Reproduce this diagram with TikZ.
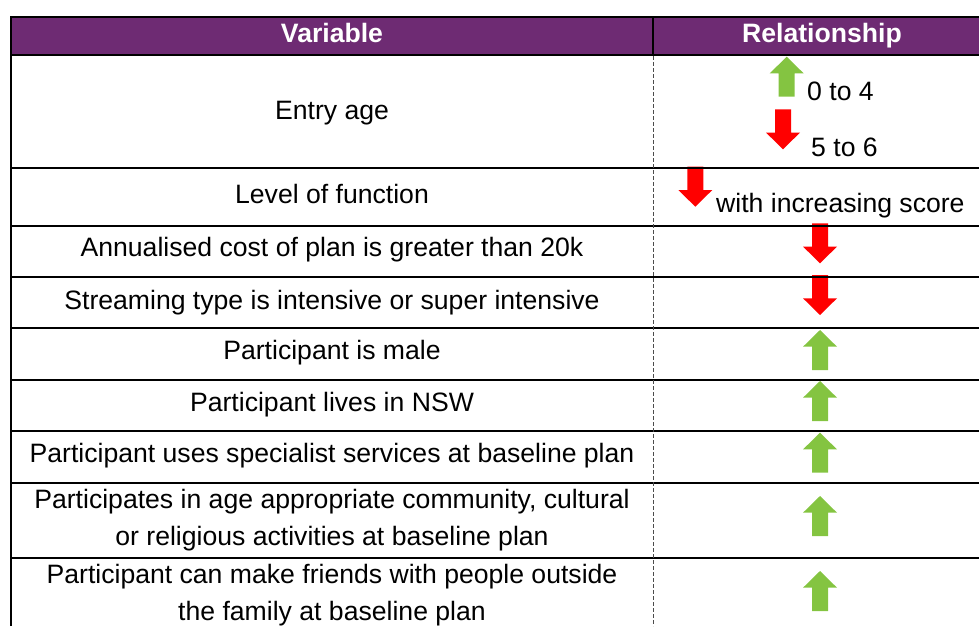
\documentclass[tikz,border=0pt]{standalone}
\usepackage{fontspec}
\setmainfont{Liberation Sans}
\definecolor{headpurple}{RGB}{110,43,115}
\definecolor{upgreen}{RGB}{132,196,65}
\definecolor{downred}{RGB}{255,0,0}

\begin{document}
\begin{tikzpicture}[x=1pt, y=-1pt,
    cell/.style={align=center, inner sep=0pt, font=\fontsize{26.6}{36.7}\selectfont},
    line/.style={cell, anchor=base},
    head/.style={line, text=white, font=\fontsize{26.6}{36.7}\selectfont\bfseries},
    rule/.style={line width=2pt},
    colrule/.style={line width=1pt, gray!60!black, dash pattern=on 4pt off 2pt},
    greenup/.pic={\fill[upgreen] (-8,20) -- (-8,-3.3) -- (-17,-3.3) -- (0,-20) -- (17,-3.3) -- (8,-3.3) -- (8,20) -- cycle;},
    reddown/.pic={\fill[downred] (-8,-20) -- (-8,3.3) -- (-17,3.3) -- (0,20) -- (17,3.3) -- (8,3.3) -- (8,-20) -- cycle;}]
  \useasboundingbox (0,0) rectangle (979,626);
  \fill[headpurple] (11,17) rectangle (979,55);

  % header
  \node[head] (var) at (332,43) {Variable};
  \node[head] (rel) at (822,43) {Relationship};

  % variables
  \node[line] (age) at (332,119.3) {Entry age};
  \node[line] (func) at (332,203.3) {Level of function};
  \node[line] (cost) at (332,256.7) {Annualised cost of plan is greater than 20k};
  \node[line] (stream) at (332,309) {Streaming type is intensive or super intensive};
  \node[line] (male) at (332,359.3) {Participant is male};
  \node[line] (nsw) at (332,411.5) {Participant lives in NSW};
  \node[line] (spec) at (332,462.5) {Participant uses specialist services at baseline plan};
  \node[cell] (comm) at (332,520.4) {Participates in age appropriate community, cultural\\or religious activities at baseline plan};
  \node[cell] (friends) at (332,595.3) {Participant can make friends with people outside\\the family at baseline plan};

  % relationships
  \pic at (786.7,76.7) {greenup};
  \node[line, anchor=base west] (age04) at (807,100) {0 to 4};
  \pic at (783,129.3) {reddown};
  \node[line, anchor=base west] (age56) at (811,156) {5 to 6};
  \pic at (695.3,186.7) {reddown};
  \node[line, anchor=base west] (score) at (716,212) {with increasing score};
  \pic at (820,243.3) {reddown};
  \pic at (820,295) {reddown};
  \foreach \y in {350,401,452.7,516,591}
    \pic at (820,\y) {greenup};

  % rules
  \draw[rule] (11,626) -- (11,17) -- (979,17);
  \draw[rule] (653,17) -- (653,55);
  \foreach \y in {55,168,226,277,328,380,431,483,558}
    \draw[rule] (11,\y) -- (979,\y);
  \draw[colrule] (653,56) -- (653,626);
\end{tikzpicture}
\end{document}
